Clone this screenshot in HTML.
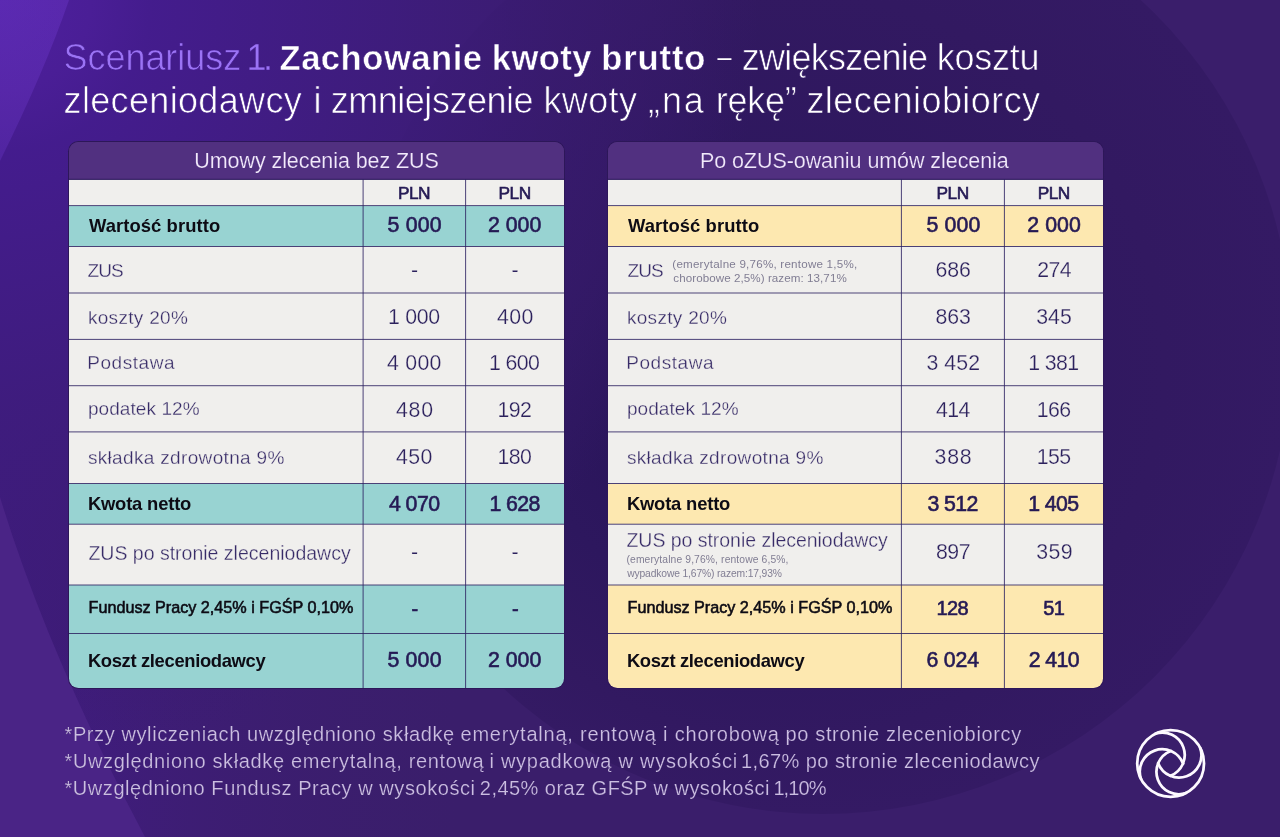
<!DOCTYPE html>
<html lang="pl">
<head>
<meta charset="utf-8">
<title>Scenariusz 1. Zachowanie kwoty brutto</title>
<style>
*{box-sizing:border-box;margin:0;padding:0}
html,body{width:1280px;height:837px;overflow:hidden;background:#3a1e6b}
body{position:relative;font-family:"Liberation Sans",sans-serif;color:#fff}
h1,p{font:inherit}
#bg{position:absolute;left:0;top:0;width:1280px;height:837px;display:block}
.x{position:absolute;white-space:pre;display:block}
.tbl{position:absolute;border-radius:10.5px;background:#2d1759}
.in{position:absolute;left:1px;top:1px;right:1px;bottom:1px;border-radius:9.5px;overflow:hidden;background:#513080}
.r{position:absolute;left:0;right:0}
.hl{position:absolute;left:0;right:0;height:1px}
.vl{position:absolute;width:1px}
#logo{position:absolute;left:1130px;top:723px;width:81px;height:81px}
</style>
</head>
<body>
<svg id="bg" viewBox="0 0 1280 837">
<defs>
<linearGradient id="gl" x1="0" y1="0" x2="460" y2="0" gradientUnits="userSpaceOnUse">
<stop offset="0" stop-color="#421c86" stop-opacity="1"/><stop offset="0.4" stop-color="#401c7c" stop-opacity="0.55"/><stop offset="1" stop-color="#3c1d70" stop-opacity="0"/>
</linearGradient>
<radialGradient id="gt" cx="0" cy="0" r="760" gradientUnits="userSpaceOnUse">
<stop offset="0" stop-color="#4e209f" stop-opacity="1"/><stop offset="0.12" stop-color="#4a1e96" stop-opacity="1"/><stop offset="0.2" stop-color="#441c8e" stop-opacity="0.95"/><stop offset="0.53" stop-color="#3e1c7d" stop-opacity="0.9"/><stop offset="0.85" stop-color="#3a1b70" stop-opacity="0.5"/><stop offset="1" stop-color="#3a1b70" stop-opacity="0"/>
</radialGradient>
<radialGradient id="gc" cx="823" cy="345" r="469" fx="650" fy="450" gradientUnits="userSpaceOnUse">
<stop offset="0" stop-color="#2a155b"/><stop offset="0.4" stop-color="#2d175e"/><stop offset="0.8" stop-color="#321961"/><stop offset="1" stop-color="#341a64"/>
</radialGradient>
<linearGradient id="gtl" x1="0" y1="0" x2="0" y2="170" gradientUnits="userSpaceOnUse">
<stop offset="0" stop-color="#9050ff" stop-opacity="0.2"/><stop offset="1" stop-color="#9050ff" stop-opacity="0.17"/>
</linearGradient>
</defs>
<rect width="1280" height="837" fill="#3a1e6b"/>
<rect width="460" height="837" fill="url(#gl)"/>
<circle cx="823" cy="345" r="469" fill="url(#gc)"/>
<rect width="1280" height="837" fill="url(#gt)"/>
<path d="M69 0Q45 70 0 161V0Z" fill="url(#gtl)"/>
<path d="M0 497Q47.5 653 145 837H0Z" fill="#4a2486"/>
</svg>

<header>
<h1>
<span class="x" style="left:63.50px;top:35.50px;font-size:36px;line-height:43px;letter-spacing:-0.044px;-webkit-text-stroke:0.7px #451d8f;color:#9b73f5;">Scenariusz</span>
<span class="x" style="left:246.60px;top:35.50px;font-size:36px;line-height:43px;letter-spacing:-3.600px;-webkit-text-stroke:0.3px #431c8a;color:#9b73f5;">1.</span>
<span class="x" style="left:279.50px;top:36.50px;font-size:34.6px;line-height:42px;letter-spacing:0.511px;font-weight:700;-webkit-text-stroke:0.5px #3e1c7d;color:#ffffff;">Zachowanie</span>
<span class="x" style="left:491.80px;top:36.50px;font-size:34.6px;line-height:42px;letter-spacing:0.400px;font-weight:700;-webkit-text-stroke:0.5px #3e1c7d;color:#ffffff;">kwoty</span>
<span class="x" style="left:601.20px;top:36.50px;font-size:34.6px;line-height:42px;letter-spacing:0.880px;font-weight:700;-webkit-text-stroke:0.5px #3e1c7d;color:#ffffff;">brutto</span>
<span class="x" style="left:717.40px;top:42.00px;font-size:25px;line-height:30px;color:#ffffff;">–</span>
<span class="x" style="left:741.80px;top:35.50px;font-size:36px;line-height:43px;letter-spacing:-0.780px;-webkit-text-stroke:0.7px #351a68;color:#ffffff;">zwiększenie</span>
<span class="x" style="left:936.70px;top:35.50px;font-size:36px;line-height:43px;letter-spacing:-0.240px;-webkit-text-stroke:0.7px #341a65;color:#ffffff;">kosztu</span>
<span class="x" style="left:63.60px;top:78.80px;font-size:36px;line-height:43px;letter-spacing:0.333px;-webkit-text-stroke:0.7px #421c88;color:#ffffff;">zleceniodawcy</span>
<span class="x" style="left:313.40px;top:78.80px;font-size:36px;line-height:43px;-webkit-text-stroke:0.7px #3f1c80;color:#ffffff;">i</span>
<span class="x" style="left:330.80px;top:78.80px;font-size:36px;line-height:43px;letter-spacing:-0.491px;-webkit-text-stroke:0.7px #3c1b78;color:#ffffff;">zmniejszenie</span>
<span class="x" style="left:543.40px;top:78.80px;font-size:36px;line-height:43px;letter-spacing:0.400px;-webkit-text-stroke:0.7px #361a6a;color:#ffffff;">kwoty</span>
<span class="x" style="left:648.00px;top:78.80px;font-size:36px;line-height:43px;letter-spacing:1.900px;-webkit-text-stroke:0.7px #341a66;color:#ffffff;">„na</span>
<span class="x" style="left:715.80px;top:78.80px;font-size:36px;line-height:43px;letter-spacing:-0.300px;-webkit-text-stroke:0.7px #331a64;color:#ffffff;">rękę”</span>
<span class="x" style="left:806.40px;top:78.80px;font-size:36px;line-height:43px;letter-spacing:0.431px;-webkit-text-stroke:0.7px #331a63;color:#ffffff;">zleceniobiorcy</span>
</h1>
</header>
<main>
<section class="tbl" id="t1" style="left:68px;top:141px;width:497px;height:548px"><div class="in">
<div class="r hd" style="top:-1px;height:38px;background:#513080"></div>
<div class="r w" style="top:37px;height:27px;background:#f0efed"></div>
<div class="r h" style="top:64px;height:40px;background:#98d3d2"></div>
<div class="r w" style="top:104px;height:47px;background:#f0efed"></div>
<div class="r w" style="top:151px;height:46px;background:#f0efed"></div>
<div class="r w" style="top:197px;height:47px;background:#f0efed"></div>
<div class="r w" style="top:244px;height:46px;background:#f0efed"></div>
<div class="r w" style="top:290px;height:52px;background:#f0efed"></div>
<div class="r h" style="top:342px;height:40px;background:#98d3d2"></div>
<div class="r w" style="top:382px;height:61px;background:#f0efed"></div>
<div class="r h" style="top:443px;height:49px;background:#98d3d2"></div>
<div class="r h" style="top:492px;height:55px;background:#98d3d2"></div>
<div class="hl" style="top:36px;background:rgba(46,26,94,0.23)"></div>
<div class="hl" style="top:37px;background:rgba(46,26,94,0.92)"></div>
<div class="hl" style="top:63px;background:rgba(45,34,98,0.77)"></div>
<div class="hl" style="top:64px;background:rgba(45,34,98,0.08)"></div>
<div class="hl" style="top:104px;background:rgba(45,34,98,0.85)"></div>
<div class="hl" style="top:150px;background:rgba(45,34,98,0.42)"></div>
<div class="hl" style="top:151px;background:rgba(45,34,98,0.42)"></div>
<div class="hl" style="top:196px;background:rgba(45,34,98,0.09)"></div>
<div class="hl" style="top:197px;background:rgba(45,34,98,0.76)"></div>
<div class="hl" style="top:243px;background:rgba(45,34,98,0.68)"></div>
<div class="hl" style="top:244px;background:rgba(45,34,98,0.17)"></div>
<div class="hl" style="top:289px;background:rgba(45,34,98,0.51)"></div>
<div class="hl" style="top:290px;background:rgba(45,34,98,0.34)"></div>
<div class="hl" style="top:341px;background:rgba(45,34,98,0.85)"></div>
<div class="hl" style="top:381px;background:rgba(45,34,98,0.25)"></div>
<div class="hl" style="top:382px;background:rgba(45,34,98,0.60)"></div>
<div class="hl" style="top:442px;background:rgba(45,34,98,0.42)"></div>
<div class="hl" style="top:443px;background:rgba(45,34,98,0.42)"></div>
<div class="hl" style="top:491px;background:rgba(45,34,98,0.85)"></div>
<div class="vl" style="left:293px;top:37px;height:510px;background:rgba(45,34,98,0.34)"></div>
<div class="vl" style="left:294px;top:37px;height:510px;background:rgba(45,34,98,0.51)"></div>
<div class="vl" style="left:396px;top:37px;height:510px;background:rgba(45,34,98,0.76)"></div>
<div class="vl" style="left:397px;top:37px;height:510px;background:rgba(45,34,98,0.09)"></div>
<span class="x" style="left:125.30px;top:6.20px;font-size:21.5px;line-height:26px;letter-spacing:-0.076px;-webkit-text-stroke:0.2px #513080;color:#f2eafb;">Umowy zlecenia bez ZUS</span>
<span class="x" style="left:19.90px;top:73.20px;font-size:18.4px;line-height:22px;letter-spacing:0.092px;font-weight:700;color:#0d0b14;">Wartość brutto</span>
<span class="x" style="left:18.60px;top:117.30px;font-size:19px;line-height:23px;letter-spacing:-0.900px;-webkit-text-stroke:0.3px #f0efed;color:#372b67;">ZUS</span>
<span class="x" style="left:18.90px;top:163.90px;font-size:19px;line-height:23px;letter-spacing:0.311px;-webkit-text-stroke:0.3px #f0efed;color:#372b67;">koszty 20%</span>
<span class="x" style="left:18.30px;top:209.30px;font-size:19px;line-height:23px;letter-spacing:0.543px;-webkit-text-stroke:0.3px #f0efed;color:#372b67;">Podstawa</span>
<span class="x" style="left:18.90px;top:254.90px;font-size:19px;line-height:23px;letter-spacing:0.080px;-webkit-text-stroke:0.3px #f0efed;color:#372b67;">podatek 12%</span>
<span class="x" style="left:18.90px;top:304.40px;font-size:19px;line-height:23px;letter-spacing:0.337px;-webkit-text-stroke:0.3px #f0efed;color:#372b67;">składka zdrowotna 9%</span>
<span class="x" style="left:18.90px;top:350.80px;font-size:18.4px;line-height:22px;letter-spacing:-0.180px;font-weight:700;color:#0d0b14;">Kwota netto</span>
<span class="x" style="left:19.40px;top:400.30px;font-size:19.5px;line-height:23px;-webkit-text-stroke:0.3px #f0efed;color:#372b67;">ZUS po stronie zleceniodawcy</span>
<span class="x" style="left:19.60px;top:456.00px;font-size:16.2px;line-height:19px;letter-spacing:-0.013px;-webkit-text-stroke:0.55px #0d0b14;color:#0d0b14;">Fundusz Pracy 2,45% i FGŚP 0,10%</span>
<span class="x" style="left:18.90px;top:508.00px;font-size:18.4px;line-height:22px;letter-spacing:-0.344px;font-weight:700;color:#0d0b14;">Koszt zleceniodawcy</span>
<span class="x n" style="left:328.90px;top:41.20px;font-size:17.3px;line-height:21px;letter-spacing:-0.500px;-webkit-text-stroke:0.6px #251a55;color:#251a55;">PLN</span>
<span class="x n" style="left:429.50px;top:41.20px;font-size:17.3px;line-height:21px;letter-spacing:-0.500px;-webkit-text-stroke:0.6px #251a55;color:#251a55;">PLN</span>
<span class="x n" style="left:318.40px;top:70.00px;font-size:21.3px;line-height:26px;letter-spacing:0.250px;-webkit-text-stroke:0.6px #251a55;color:#251a55;">5 000</span>
<span class="x n" style="left:419.00px;top:70.00px;font-size:21.3px;line-height:26px;-webkit-text-stroke:0.6px #251a55;color:#251a55;">2 000</span>
<span class="x n" style="left:341.90px;top:114.60px;font-size:21.3px;line-height:26px;-webkit-text-stroke:0.25px #f0efed;color:#2c215d;">-</span>
<span class="x n" style="left:442.50px;top:114.60px;font-size:21.3px;line-height:26px;-webkit-text-stroke:0.25px #f0efed;color:#2c215d;">-</span>
<span class="x n" style="left:318.90px;top:161.60px;font-size:21.3px;line-height:26px;letter-spacing:-0.250px;-webkit-text-stroke:0.25px #f0efed;color:#2c215d;">1 000</span>
<span class="x n" style="left:428.00px;top:161.60px;font-size:21.3px;line-height:26px;letter-spacing:0.400px;-webkit-text-stroke:0.25px #f0efed;color:#2c215d;">400</span>
<span class="x n" style="left:317.90px;top:208.20px;font-size:21.3px;line-height:26px;letter-spacing:0.300px;-webkit-text-stroke:0.25px #f0efed;color:#2c215d;">4 000</span>
<span class="x n" style="left:420.00px;top:208.20px;font-size:21.3px;line-height:26px;letter-spacing:-0.600px;-webkit-text-stroke:0.25px #f0efed;color:#2c215d;">1 600</span>
<span class="x n" style="left:326.90px;top:255.20px;font-size:21.3px;line-height:26px;letter-spacing:0.800px;-webkit-text-stroke:0.25px #f0efed;color:#2c215d;">480</span>
<span class="x n" style="left:428.50px;top:255.20px;font-size:21.3px;line-height:26px;letter-spacing:-0.600px;-webkit-text-stroke:0.25px #f0efed;color:#2c215d;">192</span>
<span class="x n" style="left:326.90px;top:302.40px;font-size:21.3px;line-height:26px;letter-spacing:0.500px;-webkit-text-stroke:0.25px #f0efed;color:#2c215d;">450</span>
<span class="x n" style="left:428.50px;top:302.40px;font-size:21.3px;line-height:26px;letter-spacing:-0.600px;-webkit-text-stroke:0.25px #f0efed;color:#2c215d;">180</span>
<span class="x n" style="left:319.90px;top:349.20px;font-size:21.3px;line-height:26px;letter-spacing:-0.525px;-webkit-text-stroke:0.6px #251a55;color:#251a55;">4 070</span>
<span class="x n" style="left:420.50px;top:349.20px;font-size:21.3px;line-height:26px;letter-spacing:-0.600px;-webkit-text-stroke:0.6px #251a55;color:#251a55;">1 628</span>
<span class="x n" style="left:341.90px;top:397.30px;font-size:21.3px;line-height:26px;-webkit-text-stroke:0.25px #f0efed;color:#2c215d;">-</span>
<span class="x n" style="left:442.50px;top:397.30px;font-size:21.3px;line-height:26px;-webkit-text-stroke:0.25px #f0efed;color:#2c215d;">-</span>
<span class="x n" style="left:342.40px;top:454.50px;font-size:20.0px;line-height:24px;-webkit-text-stroke:0.6px #251a55;color:#251a55;">-</span>
<span class="x n" style="left:443.00px;top:454.50px;font-size:20.0px;line-height:24px;-webkit-text-stroke:0.6px #251a55;color:#251a55;">-</span>
<span class="x n" style="left:318.40px;top:505.00px;font-size:21.3px;line-height:26px;letter-spacing:0.200px;-webkit-text-stroke:0.6px #251a55;color:#251a55;">5 000</span>
<span class="x n" style="left:419.00px;top:505.00px;font-size:21.3px;line-height:26px;-webkit-text-stroke:0.6px #251a55;color:#251a55;">2 000</span>
</div></section>
<section class="tbl" id="t2" style="left:607px;top:141px;width:497px;height:548px"><div class="in">
<div class="r hd" style="top:-1px;height:38px;background:#513080"></div>
<div class="r w" style="top:37px;height:27px;background:#f0efed"></div>
<div class="r h" style="top:64px;height:40px;background:#fde8b0"></div>
<div class="r w" style="top:104px;height:47px;background:#f0efed"></div>
<div class="r w" style="top:151px;height:46px;background:#f0efed"></div>
<div class="r w" style="top:197px;height:47px;background:#f0efed"></div>
<div class="r w" style="top:244px;height:46px;background:#f0efed"></div>
<div class="r w" style="top:290px;height:52px;background:#f0efed"></div>
<div class="r h" style="top:342px;height:40px;background:#fde8b0"></div>
<div class="r w" style="top:382px;height:61px;background:#f0efed"></div>
<div class="r h" style="top:443px;height:49px;background:#fde8b0"></div>
<div class="r h" style="top:492px;height:55px;background:#fde8b0"></div>
<div class="hl" style="top:36px;background:rgba(46,26,94,0.23)"></div>
<div class="hl" style="top:37px;background:rgba(46,26,94,0.92)"></div>
<div class="hl" style="top:63px;background:rgba(45,34,98,0.77)"></div>
<div class="hl" style="top:64px;background:rgba(45,34,98,0.08)"></div>
<div class="hl" style="top:104px;background:rgba(45,34,98,0.85)"></div>
<div class="hl" style="top:150px;background:rgba(45,34,98,0.42)"></div>
<div class="hl" style="top:151px;background:rgba(45,34,98,0.42)"></div>
<div class="hl" style="top:196px;background:rgba(45,34,98,0.09)"></div>
<div class="hl" style="top:197px;background:rgba(45,34,98,0.76)"></div>
<div class="hl" style="top:243px;background:rgba(45,34,98,0.68)"></div>
<div class="hl" style="top:244px;background:rgba(45,34,98,0.17)"></div>
<div class="hl" style="top:289px;background:rgba(45,34,98,0.51)"></div>
<div class="hl" style="top:290px;background:rgba(45,34,98,0.34)"></div>
<div class="hl" style="top:341px;background:rgba(45,34,98,0.85)"></div>
<div class="hl" style="top:381px;background:rgba(45,34,98,0.25)"></div>
<div class="hl" style="top:382px;background:rgba(45,34,98,0.60)"></div>
<div class="hl" style="top:442px;background:rgba(45,34,98,0.42)"></div>
<div class="hl" style="top:443px;background:rgba(45,34,98,0.42)"></div>
<div class="hl" style="top:491px;background:rgba(45,34,98,0.85)"></div>
<div class="vl" style="left:292px;top:37px;height:510px;background:rgba(45,34,98,0.09)"></div>
<div class="vl" style="left:293px;top:37px;height:510px;background:rgba(45,34,98,0.76)"></div>
<div class="vl" style="left:395px;top:37px;height:510px;background:rgba(45,34,98,0.09)"></div>
<div class="vl" style="left:396px;top:37px;height:510px;background:rgba(45,34,98,0.76)"></div>
<span class="x" style="left:91.90px;top:6.20px;font-size:21.5px;line-height:26px;letter-spacing:-0.067px;-webkit-text-stroke:0.2px #513080;color:#f2eafb;">Po oZUS-owaniu umów zlecenia</span>
<span class="x" style="left:19.90px;top:73.20px;font-size:18.4px;line-height:22px;letter-spacing:0.092px;font-weight:700;color:#0d0b14;">Wartość brutto</span>
<span class="x" style="left:19.50px;top:117.30px;font-size:19px;line-height:23px;letter-spacing:-0.900px;-webkit-text-stroke:0.3px #f0efed;color:#372b67;">ZUS</span>
<span class="x" style="left:18.90px;top:163.90px;font-size:19px;line-height:23px;letter-spacing:0.311px;-webkit-text-stroke:0.3px #f0efed;color:#372b67;">koszty 20%</span>
<span class="x" style="left:18.30px;top:209.30px;font-size:19px;line-height:23px;letter-spacing:0.543px;-webkit-text-stroke:0.3px #f0efed;color:#372b67;">Podstawa</span>
<span class="x" style="left:18.90px;top:254.90px;font-size:19px;line-height:23px;letter-spacing:0.080px;-webkit-text-stroke:0.3px #f0efed;color:#372b67;">podatek 12%</span>
<span class="x" style="left:18.90px;top:304.40px;font-size:19px;line-height:23px;letter-spacing:0.337px;-webkit-text-stroke:0.3px #f0efed;color:#372b67;">składka zdrowotna 9%</span>
<span class="x" style="left:18.90px;top:350.80px;font-size:18.4px;line-height:22px;letter-spacing:-0.180px;font-weight:700;color:#0d0b14;">Kwota netto</span>
<span class="x" style="left:19.60px;top:456.00px;font-size:16.2px;line-height:19px;letter-spacing:-0.013px;-webkit-text-stroke:0.55px #0d0b14;color:#0d0b14;">Fundusz Pracy 2,45% i FGŚP 0,10%</span>
<span class="x" style="left:18.90px;top:508.00px;font-size:18.4px;line-height:22px;letter-spacing:-0.344px;font-weight:700;color:#0d0b14;">Koszt zleceniodawcy</span>
<span class="x" style="left:18.50px;top:387.00px;font-size:19.5px;line-height:23px;letter-spacing:-0.037px;-webkit-text-stroke:0.3px #f0efed;color:#372b67;">ZUS po stronie zleceniodawcy</span>
<span class="x sm" style="left:64.30px;top:114.60px;font-size:11.6px;line-height:14px;letter-spacing:0.226px;color:#807d93;">(emerytalne 9,76%, rentowe 1,5%,</span>
<span class="x sm" style="left:65.30px;top:129.00px;font-size:11.6px;line-height:14px;letter-spacing:0.071px;color:#807d93;">chorobowe 2,5%) razem: 13,71%</span>
<span class="x sm" style="left:18.50px;top:412.20px;font-size:10.3px;line-height:12px;letter-spacing:0.129px;color:#807d93;">(emerytalne 9,76%, rentowe 6,5%,</span>
<span class="x sm" style="left:19.20px;top:426.00px;font-size:10.3px;line-height:12px;letter-spacing:-0.136px;color:#807d93;">wypadkowe 1,67%) razem:17,93%</span>
<span class="x n" style="left:328.50px;top:41.20px;font-size:17.3px;line-height:21px;letter-spacing:-0.500px;-webkit-text-stroke:0.6px #251a55;color:#251a55;">PLN</span>
<span class="x n" style="left:429.70px;top:41.20px;font-size:17.3px;line-height:21px;letter-spacing:-0.500px;-webkit-text-stroke:0.6px #251a55;color:#251a55;">PLN</span>
<span class="x n" style="left:318.50px;top:70.00px;font-size:21.3px;line-height:26px;letter-spacing:0.150px;-webkit-text-stroke:0.6px #251a55;color:#251a55;">5 000</span>
<span class="x n" style="left:419.20px;top:70.00px;font-size:21.3px;line-height:26px;letter-spacing:0.100px;-webkit-text-stroke:0.6px #251a55;color:#251a55;">2 000</span>
<span class="x n" style="left:327.50px;top:114.80px;font-size:21.3px;line-height:26px;letter-spacing:-0.100px;-webkit-text-stroke:0.25px #f0efed;color:#2c215d;">686</span>
<span class="x n" style="left:429.20px;top:114.80px;font-size:21.3px;line-height:26px;letter-spacing:-0.600px;-webkit-text-stroke:0.25px #f0efed;color:#2c215d;">274</span>
<span class="x n" style="left:327.50px;top:161.60px;font-size:21.3px;line-height:26px;letter-spacing:-0.100px;-webkit-text-stroke:0.25px #f0efed;color:#2c215d;">863</span>
<span class="x n" style="left:428.20px;top:161.60px;font-size:21.3px;line-height:26px;-webkit-text-stroke:0.25px #f0efed;color:#2c215d;">345</span>
<span class="x n" style="left:318.50px;top:208.20px;font-size:21.3px;line-height:26px;letter-spacing:0.050px;-webkit-text-stroke:0.25px #f0efed;color:#2c215d;">3 452</span>
<span class="x n" style="left:420.20px;top:208.20px;font-size:21.3px;line-height:26px;letter-spacing:-0.600px;-webkit-text-stroke:0.25px #f0efed;color:#2c215d;">1 381</span>
<span class="x n" style="left:328.00px;top:255.20px;font-size:21.3px;line-height:26px;letter-spacing:-0.600px;-webkit-text-stroke:0.25px #f0efed;color:#2c215d;">414</span>
<span class="x n" style="left:428.70px;top:255.20px;font-size:21.3px;line-height:26px;letter-spacing:-0.600px;-webkit-text-stroke:0.25px #f0efed;color:#2c215d;">166</span>
<span class="x n" style="left:326.50px;top:302.40px;font-size:21.3px;line-height:26px;letter-spacing:0.800px;-webkit-text-stroke:0.25px #f0efed;color:#2c215d;">388</span>
<span class="x n" style="left:428.70px;top:302.40px;font-size:21.3px;line-height:26px;letter-spacing:-0.600px;-webkit-text-stroke:0.25px #f0efed;color:#2c215d;">155</span>
<span class="x n" style="left:319.50px;top:349.20px;font-size:21.3px;line-height:26px;letter-spacing:-0.600px;-webkit-text-stroke:0.6px #251a55;color:#251a55;">3 512</span>
<span class="x n" style="left:420.20px;top:349.20px;font-size:21.3px;line-height:26px;letter-spacing:-0.575px;-webkit-text-stroke:0.6px #251a55;color:#251a55;">1 405</span>
<span class="x n" style="left:328.00px;top:397.00px;font-size:21.3px;line-height:26px;letter-spacing:-0.500px;-webkit-text-stroke:0.25px #f0efed;color:#2c215d;">897</span>
<span class="x n" style="left:428.20px;top:397.00px;font-size:21.3px;line-height:26px;letter-spacing:0.400px;-webkit-text-stroke:0.25px #f0efed;color:#2c215d;">359</span>
<span class="x n" style="left:328.50px;top:454.40px;font-size:20.0px;line-height:24px;letter-spacing:-0.600px;-webkit-text-stroke:0.6px #251a55;color:#251a55;">128</span>
<span class="x n" style="left:435.20px;top:454.40px;font-size:20.0px;line-height:24px;letter-spacing:-0.600px;-webkit-text-stroke:0.6px #251a55;color:#251a55;">51</span>
<span class="x n" style="left:318.50px;top:505.00px;font-size:21.3px;line-height:26px;letter-spacing:-0.200px;-webkit-text-stroke:0.6px #251a55;color:#251a55;">6 024</span>
<span class="x n" style="left:420.70px;top:505.00px;font-size:21.3px;line-height:26px;letter-spacing:-0.600px;-webkit-text-stroke:0.6px #251a55;color:#251a55;">2 410</span>
</div></section>
</main>
<footer>
<p>
<span class="x" style="left:64.50px;top:721.80px;font-size:20px;line-height:24px;letter-spacing:0.600px;-webkit-text-stroke:0.2px #371c68;color:#cbbee1;">*Przy wyliczeniach uwzględniono składkę</span>
<span class="x" style="left:460.50px;top:721.80px;font-size:20px;line-height:24px;letter-spacing:0.793px;-webkit-text-stroke:0.2px #371c68;color:#cbbee1;">emerytalną, rentową i chorobową</span>
<span class="x" style="left:785.50px;top:721.80px;font-size:20px;line-height:24px;letter-spacing:0.650px;-webkit-text-stroke:0.2px #371c68;color:#cbbee1;">po stronie zleceniobiorcy</span>
</p>
<p>
<span class="x" style="left:64.50px;top:749.10px;font-size:20px;line-height:24px;letter-spacing:0.640px;-webkit-text-stroke:0.2px #371c68;color:#cbbee1;">*Uwzględniono składkę emerytalną, rentową</span>
<span class="x" style="left:489.40px;top:749.10px;font-size:20px;line-height:24px;letter-spacing:0.755px;-webkit-text-stroke:0.2px #371c68;color:#cbbee1;">i wypadkową w wysokości</span>
<span class="x" style="left:740.90px;top:749.10px;font-size:20px;line-height:24px;letter-spacing:0.441px;-webkit-text-stroke:0.2px #371c68;color:#cbbee1;">1,67% po stronie zleceniodawcy</span>
</p>
<p>
<span class="x" style="left:64.50px;top:776.00px;font-size:20px;line-height:24px;letter-spacing:0.563px;-webkit-text-stroke:0.2px #371c68;color:#cbbee1;">*Uwzględniono Fundusz Pracy w wysokości</span>
<span class="x" style="left:479.80px;top:776.00px;font-size:20px;line-height:24px;letter-spacing:0.462px;-webkit-text-stroke:0.2px #371c68;color:#cbbee1;">2,45% oraz GFŚP w wysokości</span>
<span class="x" style="left:773.40px;top:776.00px;font-size:20px;line-height:24px;letter-spacing:-0.900px;-webkit-text-stroke:0.2px #371c68;color:#cbbee1;">1,10%</span>
</p>
</footer>
<svg id="logo" viewBox="0 0 81 81" fill="none" stroke="#fdf9ff" stroke-width="2.75" stroke-linecap="round"><circle cx="40.6" cy="40.4" r="33.4"/><path d="M25.18 10.77A22.38 22.38 0 0 1 40.38 52.86"/><path d="M70.23 24.98A22.38 22.38 0 0 1 28.14 40.18"/><path d="M56.02 70.03A22.38 22.38 0 0 1 40.82 27.94"/><path d="M10.97 55.82A22.38 22.38 0 0 1 53.06 40.62"/></svg>
</body>
</html>
